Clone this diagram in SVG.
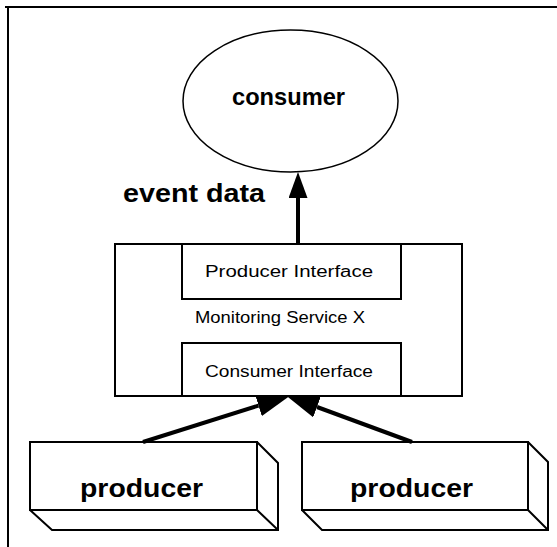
<svg xmlns="http://www.w3.org/2000/svg" width="557" height="547" viewBox="0 0 557 547">
<style>
.box{fill:#fff;stroke:#000;stroke-width:2;stroke-linejoin:miter}
.face{fill:none;stroke:#000;stroke-width:2}
.lbl{font-family:"Liberation Sans",Arial,sans-serif;fill:#000}
.big{font-size:26px;font-weight:bold}
.small{font-size:16px}
.conn{stroke:#000;stroke-width:4;fill:none}
.frame{stroke:#000;stroke-width:2;fill:none}
</style>
<defs>
<marker id="ah" markerUnits="userSpaceOnUse" markerWidth="33" markerHeight="22" viewBox="0 0 33 22" refX="0" refY="11" orient="auto"><path d="M0,0 L33,11 L0,22 Z" fill="#000"/></marker>
<marker id="ahUp" markerUnits="userSpaceOnUse" markerWidth="26" markerHeight="19" viewBox="0 0 26 19" refX="0" refY="9.5" orient="auto"><path d="M0,0 L26,9.5 L0,19 Z" fill="#000"/></marker>
</defs>
<rect width="557" height="547" fill="#fff"/>
<path class="frame" d="M5,7 H557 M8,7 V547"/>

<g id="consumer">
<ellipse cx="290.5" cy="101" rx="107.5" ry="71" fill="#fff" stroke="#000" stroke-width="1.5"/>
<text class="lbl" x="288.5" y="105" font-size="24" font-weight="bold" text-anchor="middle" textLength="113" lengthAdjust="spacingAndGlyphs">consumer</text>
</g>

<g id="monitoring-service">
<rect class="box" x="115" y="244" width="347" height="152"/>
<text class="lbl small" x="280" y="323" text-anchor="middle" textLength="170" lengthAdjust="spacingAndGlyphs">Monitoring Service X</text>
</g>
<g id="producer-interface">
<rect class="box" x="182" y="244" width="219" height="55"/>
<text class="lbl small" x="289" y="277" text-anchor="middle" textLength="168" lengthAdjust="spacingAndGlyphs">Producer Interface</text>
</g>
<g id="consumer-interface">
<rect class="box" x="182" y="343" width="219" height="53"/>
<text class="lbl small" x="289" y="377" text-anchor="middle" textLength="168" lengthAdjust="spacingAndGlyphs">Consumer Interface</text>
</g>

<g id="producer-1">
<rect class="box" x="30" y="442" width="227" height="68"/>
<path class="face" d="M257,442 L278,463 L278,530 L52,530 L30,510 M257,510 L278,530"/>
<text class="lbl big" x="141.5" y="497" text-anchor="middle" textLength="123" lengthAdjust="spacingAndGlyphs">producer</text>
</g>
<g id="producer-2">
<rect class="box" x="302" y="442" width="226" height="68"/>
<path class="face" d="M528,442 L548,462 L548,530 L322,530 L302,510 M528,510 L548,530"/>
<text class="lbl big" x="411.5" y="497" text-anchor="middle" textLength="123" lengthAdjust="spacingAndGlyphs">producer</text>
</g>

<g id="connectors">
<line class="conn" x1="298" y1="244" x2="298" y2="198" marker-end="url(#ahUp)"/>
<line class="conn" x1="143" y1="442" x2="258.5" y2="405.6" marker-end="url(#ah)"/>
<line class="conn" x1="412" y1="442" x2="317" y2="407" marker-end="url(#ah)"/>
<text class="lbl" x="123" y="202" font-size="25" font-weight="bold" textLength="142" lengthAdjust="spacingAndGlyphs">event data</text>
</g>
</svg>
